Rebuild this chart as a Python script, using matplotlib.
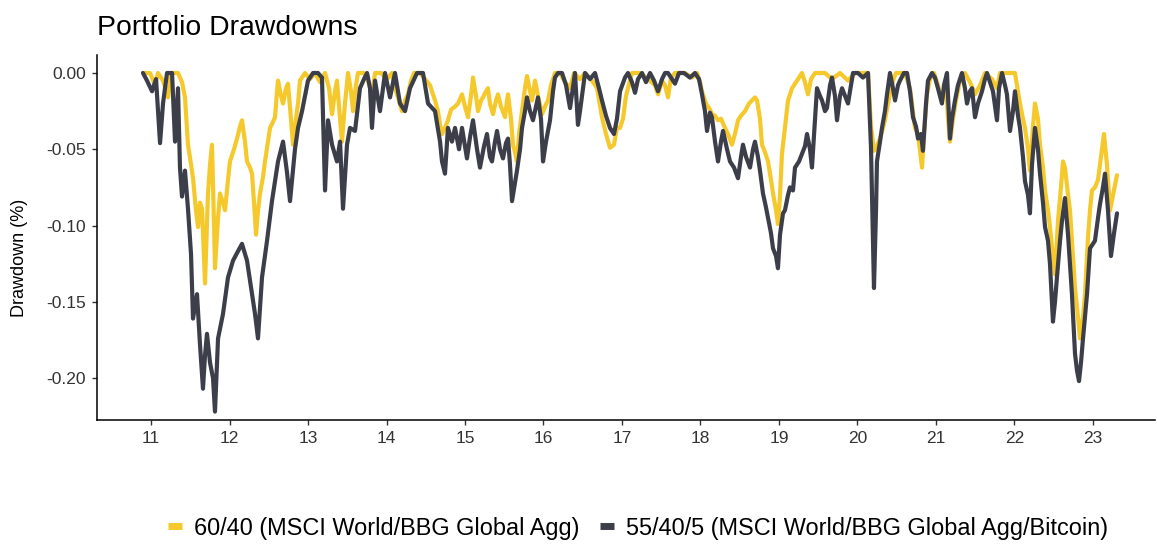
import matplotlib
matplotlib.use("Agg")
import matplotlib.pyplot as plt
from matplotlib.lines import Line2D

plt.rcParams['font.family'] = ['Liberation Sans', 'DejaVu Sans']
plt.rcParams['axes.unicode_minus'] = False

# ---- data: drawdowns by decimal year ----
series_labels = ["60/40 (MSCI World/BBG Global Agg)",
                 "55/40/5 (MSCI World/BBG Global Agg/Bitcoin)"]

gold_t = [
    10.898, 10.987, 11.051, 11.089, 11.153, 11.217, 11.255, 11.344, 11.395, 11.433,
    11.471, 11.510, 11.535, 11.573, 11.599, 11.624, 11.650, 11.688, 11.713, 11.726,
    11.752, 11.777, 11.803, 11.815, 11.854, 11.879, 11.917, 11.943, 11.981, 12.006,
    12.057, 12.096, 12.134, 12.159, 12.197, 12.223, 12.261, 12.287, 12.312, 12.338,
    12.363, 12.389, 12.427, 12.452, 12.490, 12.516, 12.554, 12.580, 12.605, 12.618,
    12.656, 12.682, 12.720, 12.745, 12.783, 12.809, 12.847, 12.873, 12.898, 12.962,
    13.025, 13.089, 13.153, 13.217, 13.268, 13.306, 13.344, 13.369, 13.408, 13.433,
    13.471, 13.510, 13.548, 13.573, 13.611, 13.637, 13.713, 13.764, 13.815, 13.854,
    13.930, 14.006, 14.070, 14.108, 14.159, 14.197, 14.236, 14.274, 14.312, 14.350,
    14.427, 14.490, 14.554, 14.618, 14.656, 14.682, 14.707, 14.745, 14.783, 14.822,
    14.873, 14.911, 14.962, 15.000, 15.038, 15.076, 15.102, 15.140, 15.166, 15.204,
    15.229, 15.268, 15.293, 15.318, 15.357, 15.395, 15.420, 15.459, 15.510, 15.535,
    15.548, 15.586, 15.611, 15.637, 15.662, 15.688, 15.726, 15.764, 15.790, 15.828,
    15.854, 15.892, 15.930, 15.981, 16.019, 16.057, 16.096, 16.146, 16.210, 16.274,
    16.338, 16.389, 16.465, 16.529, 16.618, 16.682, 16.745, 16.796, 16.847, 16.898,
    16.936, 16.975, 17.013, 17.051, 17.076, 17.127, 17.229, 17.331, 17.420, 17.459,
    17.510, 17.548, 17.586, 17.624, 17.675, 17.803, 17.892, 17.955, 17.994, 18.019,
    18.070, 18.121, 18.146, 18.185, 18.223, 18.261, 18.312, 18.350, 18.401, 18.439,
    18.478, 18.516, 18.567, 18.618, 18.656, 18.694, 18.720, 18.758, 18.783, 18.822,
    18.860, 18.898, 18.924, 18.962, 18.987, 19.013, 19.038, 19.076, 19.115, 19.166,
    19.204, 19.255, 19.293, 19.331, 19.369, 19.408, 19.459, 19.586, 19.675, 19.777,
    19.879, 19.968, 20.134, 20.172, 20.210, 20.248, 20.287, 20.325, 20.350, 20.389,
    20.414, 20.452, 20.490, 20.605, 20.669, 20.732, 20.771, 20.822, 20.847, 20.885,
    20.924, 20.975, 21.025, 21.076, 21.127, 21.153, 21.178, 21.217, 21.255, 21.306,
    21.369, 21.433, 21.497, 21.561, 21.624, 21.713, 21.777, 21.815, 21.943, 22.006,
    22.045, 22.070, 22.108, 22.134, 22.172, 22.197, 22.236, 22.261, 22.299, 22.325,
    22.363, 22.389, 22.427, 22.452, 22.490, 22.516, 22.554, 22.592, 22.618, 22.643,
    22.682, 22.707, 22.745, 22.771, 22.809, 22.834, 22.873, 22.898, 22.936, 22.962,
    22.987, 23.025, 23.064, 23.102, 23.140, 23.178, 23.217, 23.255, 23.306,
]
gold_dd = [
    0.000, 0.000, -0.008, 0.000, -0.005, -0.016, 0.000, 0.000, -0.006, -0.016,
    -0.047, -0.060, -0.069, -0.090, -0.101, -0.085, -0.089, -0.138, -0.100, -0.079,
    -0.060, -0.047, -0.100, -0.128, -0.095, -0.079, -0.085, -0.090, -0.070, -0.058,
    -0.050, -0.043, -0.035, -0.031, -0.045, -0.058, -0.062, -0.066, -0.085, -0.106,
    -0.090, -0.079, -0.068, -0.058, -0.045, -0.036, -0.032, -0.029, -0.012, -0.005,
    -0.015, -0.020, -0.010, -0.007, -0.030, -0.047, -0.030, -0.020, -0.005, 0.000,
    -0.004, 0.000, -0.006, 0.000, -0.010, -0.027, -0.012, -0.005, -0.030, -0.045,
    -0.020, 0.000, -0.012, -0.025, -0.008, 0.000, 0.000, -0.005, -0.014, 0.000,
    0.000, -0.004, 0.000, -0.010, -0.018, -0.025, -0.018, -0.014, -0.005, 0.000,
    0.000, -0.004, -0.008, -0.018, -0.025, -0.034, -0.040, -0.036, -0.031, -0.024,
    -0.022, -0.020, -0.014, -0.022, -0.029, -0.015, -0.003, -0.015, -0.025, -0.018,
    -0.016, -0.012, -0.010, -0.020, -0.027, -0.018, -0.014, -0.022, -0.029, -0.018,
    -0.014, -0.030, -0.047, -0.052, -0.058, -0.040, -0.025, -0.010, -0.002, -0.012,
    -0.018, -0.005, -0.015, -0.027, -0.022, -0.018, -0.008, 0.000, 0.000, -0.006,
    -0.010, 0.000, -0.004, 0.000, -0.005, -0.010, -0.029, -0.040, -0.049, -0.047,
    -0.036, -0.036, -0.030, -0.015, -0.010, 0.000, 0.000, -0.004, -0.008, -0.014,
    -0.005, -0.008, -0.016, -0.003, 0.000, 0.000, -0.003, 0.000, -0.006, -0.012,
    -0.020, -0.024, -0.027, -0.028, -0.031, -0.030, -0.036, -0.040, -0.047, -0.040,
    -0.031, -0.028, -0.025, -0.020, -0.018, -0.016, -0.018, -0.030, -0.047, -0.052,
    -0.058, -0.070, -0.079, -0.090, -0.099, -0.080, -0.053, -0.036, -0.018, -0.010,
    -0.007, -0.003, 0.000, -0.006, -0.014, -0.004, 0.000, 0.000, -0.004, 0.000,
    -0.005, 0.000, 0.000, -0.035, -0.051, -0.048, -0.043, -0.036, -0.031, -0.020,
    -0.014, -0.005, 0.000, 0.000, -0.010, -0.036, -0.040, -0.062, -0.040, -0.014,
    -0.004, 0.000, -0.008, -0.018, -0.005, -0.030, -0.045, -0.030, -0.018, -0.005,
    0.000, -0.006, -0.014, -0.008, 0.000, -0.004, -0.010, 0.000, 0.000, 0.000,
    -0.012, -0.020, -0.030, -0.036, -0.050, -0.064, -0.035, -0.020, -0.030, -0.047,
    -0.062, -0.077, -0.090, -0.101, -0.120, -0.132, -0.097, -0.075, -0.058, -0.062,
    -0.080, -0.090, -0.120, -0.141, -0.160, -0.174, -0.160, -0.145, -0.108, -0.090,
    -0.077, -0.075, -0.070, -0.055, -0.040, -0.060, -0.090, -0.080, -0.067,
]

dark_t = [
    10.898, 10.949, 11.013, 11.064, 11.115, 11.153, 11.204, 11.268, 11.306, 11.344,
    11.369, 11.395, 11.433, 11.471, 11.510, 11.535, 11.586, 11.624, 11.662, 11.688,
    11.713, 11.752, 11.790, 11.815, 11.854, 11.917, 11.981, 12.045, 12.096, 12.159,
    12.223, 12.261, 12.325, 12.363, 12.414, 12.478, 12.541, 12.618, 12.682, 12.732,
    12.771, 12.834, 12.873, 12.924, 13.000, 13.064, 13.127, 13.178, 13.217, 13.255,
    13.306, 13.369, 13.408, 13.446, 13.497, 13.535, 13.599, 13.662, 13.713, 13.752,
    13.790, 13.815, 13.854, 13.917, 13.981, 14.045, 14.108, 14.172, 14.236, 14.299,
    14.389, 14.465, 14.529, 14.618, 14.682, 14.707, 14.745, 14.783, 14.834, 14.873,
    14.924, 14.962, 15.025, 15.064, 15.102, 15.153, 15.191, 15.242, 15.280, 15.318,
    15.344, 15.382, 15.408, 15.446, 15.484, 15.522, 15.548, 15.573, 15.599, 15.637,
    15.662, 15.701, 15.726, 15.764, 15.790, 15.828, 15.866, 15.904, 15.930, 15.968,
    15.994, 16.032, 16.083, 16.121, 16.146, 16.185, 16.236, 16.287, 16.338, 16.401,
    16.439, 16.465, 16.529, 16.592, 16.656, 16.707, 16.745, 16.796, 16.847, 16.898,
    16.936, 16.975, 17.038, 17.076, 17.127, 17.166, 17.204, 17.255, 17.306, 17.357,
    17.408, 17.459, 17.510, 17.548, 17.586, 17.637, 17.675, 17.726, 17.790, 17.866,
    17.930, 17.981, 18.019, 18.057, 18.083, 18.121, 18.146, 18.185, 18.223, 18.261,
    18.287, 18.338, 18.376, 18.427, 18.478, 18.516, 18.541, 18.580, 18.631, 18.669,
    18.694, 18.732, 18.758, 18.796, 18.834, 18.860, 18.898, 18.924, 18.962, 18.987,
    19.013, 19.051, 19.076, 19.115, 19.140, 19.178, 19.204, 19.255, 19.293, 19.331,
    19.357, 19.395, 19.420, 19.459, 19.484, 19.522, 19.548, 19.586, 19.611, 19.650,
    19.675, 19.713, 19.739, 19.777, 19.803, 19.841, 19.879, 19.917, 19.943, 20.006,
    20.070, 20.134, 20.172, 20.210, 20.236, 20.248, 20.287, 20.312, 20.350, 20.376,
    20.414, 20.452, 20.478, 20.516, 20.541, 20.592, 20.631, 20.669, 20.707, 20.745,
    20.771, 20.809, 20.834, 20.873, 20.898, 20.949, 20.987, 21.025, 21.076, 21.102,
    21.140, 21.178, 21.204, 21.242, 21.280, 21.331, 21.369, 21.395, 21.433, 21.459,
    21.497, 21.535, 21.586, 21.624, 21.650, 21.688, 21.726, 21.777, 21.803, 21.841,
    21.879, 21.904, 21.943, 21.981, 22.006, 22.045, 22.070, 22.108, 22.134, 22.172,
    22.197, 22.223, 22.261, 22.299, 22.325, 22.363, 22.389, 22.427, 22.452, 22.490,
    22.516, 22.541, 22.580, 22.605, 22.643, 22.682, 22.707, 22.732, 22.771, 22.796,
    22.822, 22.847, 22.873, 22.898, 22.924, 22.962, 23.000, 23.025, 23.064, 23.089,
    23.127, 23.153, 23.191, 23.229, 23.268, 23.306,
]
dark_dd = [
    0.000, -0.005, -0.012, -0.004, -0.046, -0.020, 0.000, 0.000, -0.045, -0.010,
    -0.062, -0.081, -0.064, -0.089, -0.119, -0.161, -0.145, -0.178, -0.207, -0.185,
    -0.171, -0.190, -0.200, -0.222, -0.174, -0.158, -0.134, -0.123, -0.118, -0.112,
    -0.123, -0.136, -0.158, -0.174, -0.134, -0.110, -0.084, -0.058, -0.045, -0.065,
    -0.084, -0.050, -0.036, -0.025, -0.005, 0.000, 0.000, -0.003, -0.077, -0.031,
    -0.047, -0.058, -0.045, -0.089, -0.047, -0.036, -0.038, -0.010, -0.004, 0.000,
    -0.010, -0.036, -0.005, -0.025, 0.000, -0.016, 0.000, -0.020, -0.025, -0.010,
    0.000, 0.000, -0.020, -0.025, -0.045, -0.058, -0.066, -0.036, -0.045, -0.036,
    -0.050, -0.036, -0.056, -0.042, -0.031, -0.050, -0.062, -0.048, -0.040, -0.055,
    -0.058, -0.045, -0.038, -0.050, -0.056, -0.046, -0.043, -0.060, -0.084, -0.072,
    -0.064, -0.050, -0.036, -0.025, -0.016, -0.025, -0.031, -0.022, -0.016, -0.030,
    -0.058, -0.045, -0.031, -0.012, -0.003, 0.000, 0.000, -0.008, -0.023, 0.000,
    -0.034, -0.025, 0.000, -0.004, 0.000, -0.010, -0.018, -0.028, -0.036, -0.040,
    -0.030, -0.012, -0.003, 0.000, -0.006, -0.013, -0.004, 0.000, -0.006, 0.000,
    -0.005, -0.012, -0.004, 0.000, 0.000, -0.004, -0.007, 0.000, 0.000, -0.003,
    0.000, -0.004, -0.014, -0.025, -0.038, -0.026, -0.029, -0.045, -0.058, -0.045,
    -0.038, -0.050, -0.058, -0.062, -0.069, -0.055, -0.047, -0.055, -0.062, -0.050,
    -0.045, -0.055, -0.064, -0.079, -0.088, -0.095, -0.105, -0.115, -0.120, -0.128,
    -0.106, -0.092, -0.090, -0.080, -0.075, -0.077, -0.062, -0.058, -0.053, -0.048,
    -0.040, -0.050, -0.062, -0.030, -0.010, -0.015, -0.018, -0.025, -0.023, -0.008,
    -0.003, -0.015, -0.031, -0.015, -0.010, -0.015, -0.020, -0.008, 0.000, 0.000,
    -0.003, 0.000, -0.049, -0.141, -0.090, -0.058, -0.045, -0.036, -0.025, -0.014,
    0.000, -0.010, -0.018, -0.008, -0.005, 0.000, 0.000, -0.012, -0.029, -0.035,
    -0.043, -0.040, -0.051, -0.020, -0.005, 0.000, -0.003, -0.010, -0.020, -0.008,
    0.000, -0.043, -0.030, -0.018, -0.008, 0.000, -0.010, -0.020, -0.012, -0.010,
    -0.029, -0.020, -0.012, -0.004, 0.000, -0.006, -0.012, -0.031, -0.010, 0.000,
    -0.008, -0.014, -0.038, -0.025, -0.012, -0.028, -0.036, -0.055, -0.071, -0.080,
    -0.092, -0.060, -0.036, -0.050, -0.066, -0.085, -0.101, -0.110, -0.125, -0.163,
    -0.150, -0.134, -0.110, -0.097, -0.082, -0.106, -0.125, -0.145, -0.184, -0.195,
    -0.202, -0.190, -0.174, -0.160, -0.145, -0.115, -0.112, -0.110, -0.095, -0.086,
    -0.075, -0.066, -0.090, -0.120, -0.105, -0.092,
]

year_ticks = list(range(11, 24))
year_labels = [str(y) for y in year_ticks]
dd_ticks = [0.00, -0.05, -0.10, -0.15, -0.20]

GOLD = "#F5C92C"
DARK = "#3C3F4A"
TEXT = "#333333"

W, H = 1157, 551
fig = plt.figure(figsize=(W / 100, H / 100), dpi=100)
ax = fig.add_axes([97 / W, 1 - 420 / H, (1155 - 97) / W, (420 - 55) / H])

ax.plot(gold_t, gold_dd, color=GOLD, lw=3.0, solid_joinstyle="round",
        solid_capstyle="round", zorder=2)
ax.plot(dark_t, dark_dd, color=DARK, lw=3.0, solid_joinstyle="round",
        solid_capstyle="round", zorder=3)

ax.set_xlim(10.312, 23.79)
ax.set_ylim(-0.2275, 0.0118)
ax.set_xticks(year_ticks)
ax.set_xticklabels(year_labels)
ax.set_yticks(dd_ticks)
ax.set_yticklabels([f"{v:.2f}" for v in dd_ticks])

for side in ("top", "right"):
    ax.spines[side].set_visible(False)
for side in ("left", "bottom"):
    ax.spines[side].set_color("black")
    ax.spines[side].set_linewidth(1.1)

ax.tick_params(axis="both", length=3.6, width=1.0, color="#333333",
               labelsize=12.5, labelcolor=TEXT, pad=4.5)

fig.text(20 / W, 1 - 258 / H, "Drawdown (%)", rotation=90, ha="center",
         va="center", fontsize=13, color="black")
fig.text(97 / W, 1 - 35 / H, "Portfolio Drawdowns", ha="left",
         va="baseline", fontsize=20.4, color="black")

handles = [Line2D([0], [0], color=GOLD, lw=5, solid_capstyle="butt"),
           Line2D([0], [0], color=DARK, lw=5, solid_capstyle="butt")]
fig.legend(handles, series_labels, loc="center",
           bbox_to_anchor=(638 / W, 1 - 528 / H), ncol=2, frameon=False,
           fontsize=16.9, handlelength=0.6, handletextpad=0.5,
           columnspacing=0.9)

fig.savefig("out.png", dpi=100)
